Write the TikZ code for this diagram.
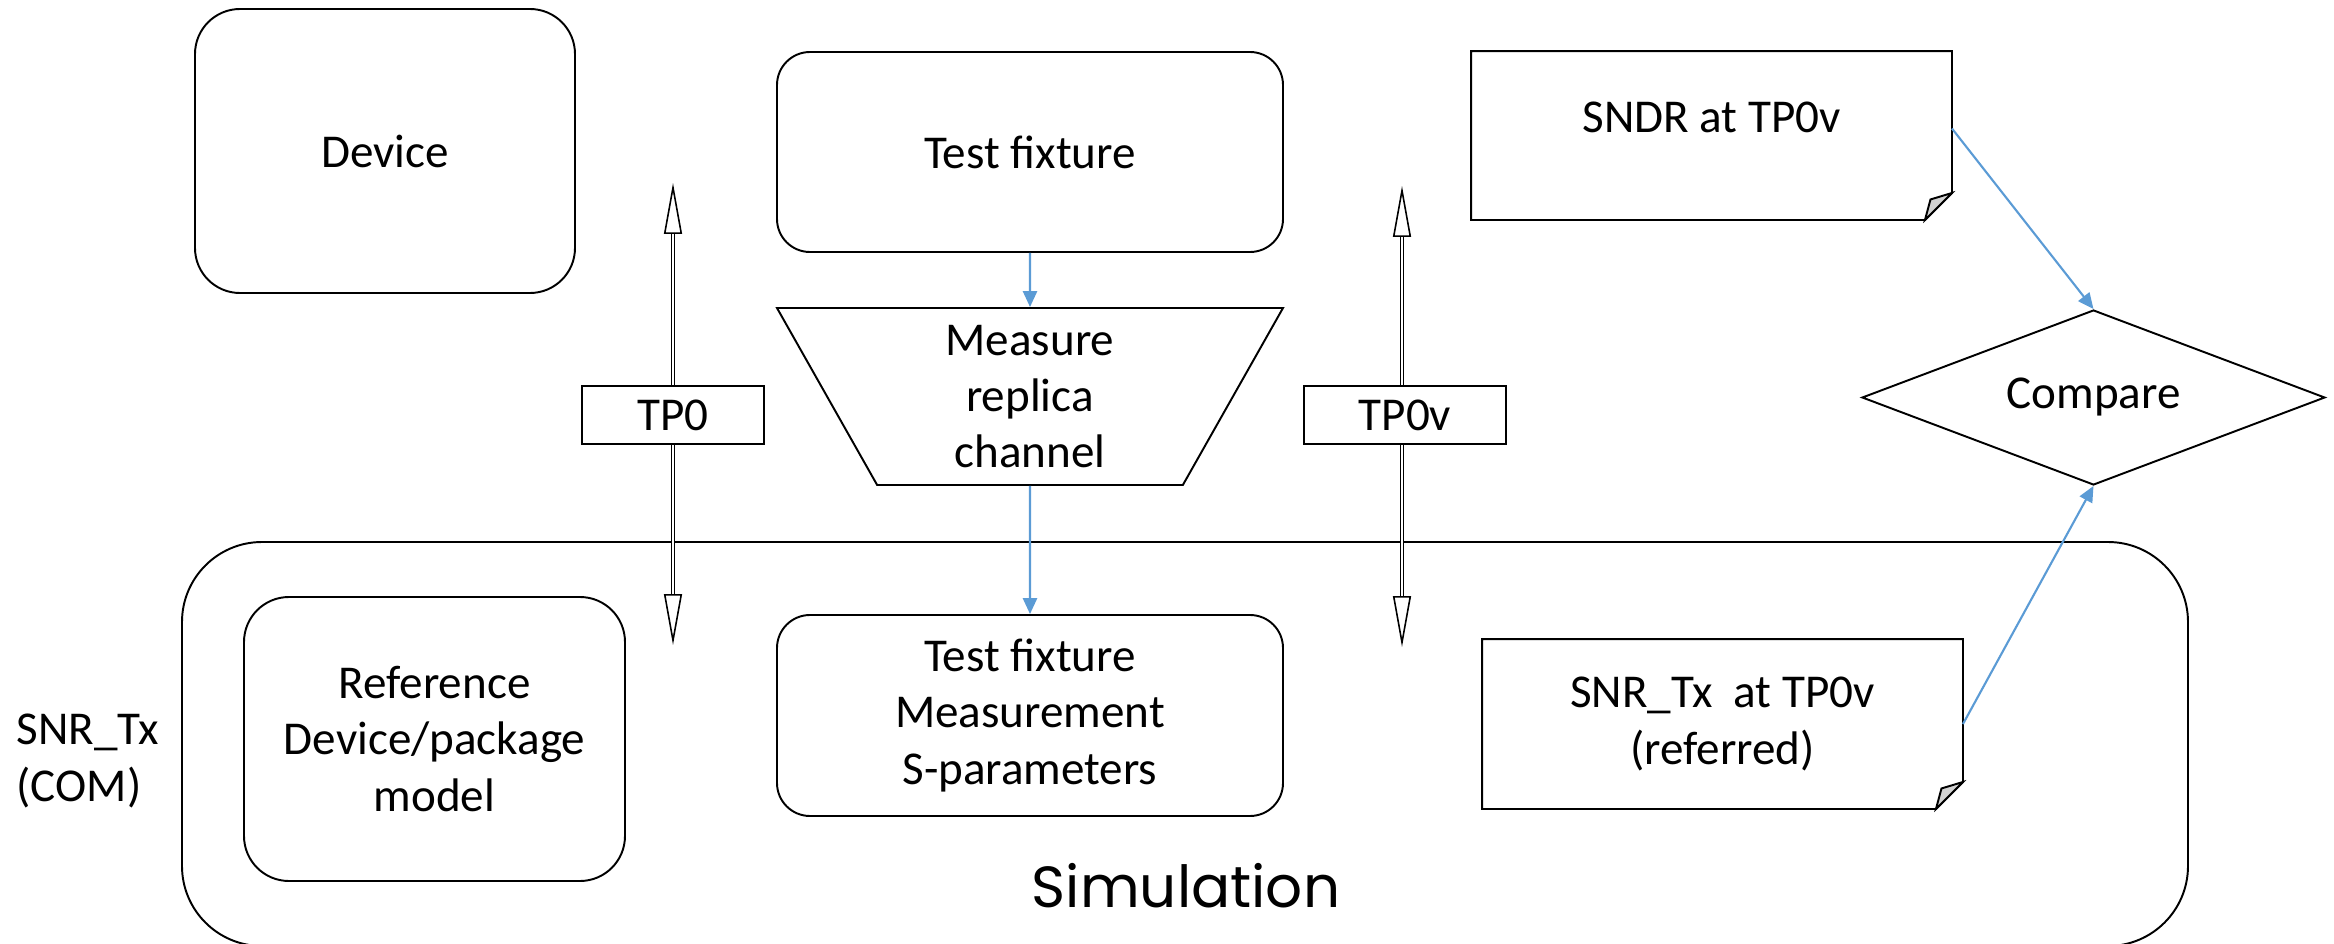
\documentclass[tikz,border=0pt]{standalone}
\usepackage{fontspec}
\setmainfont{Carlito}
\newfontfamily\manuscrit{Poppins}
\usetikzlibrary{shapes.geometric,arrows.meta}
\definecolor{bleulien}{HTML}{5B9BD5}
% note au coin replié
\newcommand{\coinplie}[1]{%
  \draw (#1.north west) -- (#1.north east) -- ([yshift=2.7mm]#1.south east)
    -- ([xshift=-2.7mm]#1.south east) -- (#1.south west) -- cycle;
  \filldraw[fill=gray!35] ([yshift=2.7mm]#1.south east) -- ([xshift=-2.7mm]#1.south east)
    -- ([xshift=-2.15mm,yshift=2.05mm]#1.south east) -- cycle;}
\begin{document}
\begin{tikzpicture}[line width=0.55pt,font=\fontsize{13.4}{16}\selectfont]
		% définition des styles
		\tikzstyle{bloc}=[rectangle,draw,rounded corners=4.5mm,align=center,inner sep=0pt]
		\tikzstyle{montage}=[rectangle,draw,rounded corners=3.3mm,align=center,inner sep=0pt,minimum width=5.06cm,minimum height=2cm]
		\tikzstyle{note}=[rectangle,align=center,inner sep=0pt,minimum width=4.79cm]
		\tikzstyle{point}=[rectangle,draw,fill=white,inner sep=0pt,minimum height=0.58cm]
		\tikzstyle{mesure}=[trapezium,draw,shape border rotate=180,trapezium left angle=55,trapezium right angle=55,trapezium stretches body,minimum width=5.06cm,minimum height=1.77cm,inner sep=0pt,align=center]
		\tikzstyle{losange}=[diamond,draw,aspect=2.65,inner sep=0pt,minimum width=4.63cm,minimum height=1.75cm]
		\tikzstyle{lien}=[-{Triangle[length=4.5pt,width=4pt]},bleulien,line width=0.6pt]
		\tikzstyle{acces}=[double,double distance=0.5pt,line width=0.45pt,{Triangle[open,length=14.5pt,width=5.1pt,line width=0.45pt]}-{Triangle[open,length=14.5pt,width=5.1pt,line width=0.45pt]}]
		\useasboundingbox (0,0) rectangle (23.34,-9.44);
		% la simulation
		\node[draw,rounded corners=8mm,minimum width=20.06cm,minimum height=4.04cm] (simu) at (11.85,-7.44) {};
		\node[font=\manuscrit\fontsize{16.5}{20}\selectfont] (simutxt) at (11.86,-8.86) {Simulation};
		\node[anchor=west,align=left] (com) at (0.04,-7.61) {SNR\_Tx\\(COM)};
		% les nœuds
		\node[bloc,minimum width=3.8cm,minimum height=2.84cm] (dev) at (3.85,-1.51) {Device};
		\node[montage] (tf) at (10.3,-1.52) {Test fixture};
		\node[note,minimum height=1.67cm,text depth=0.36cm] (sndr) at (17.115,-1.355) {SNDR at TP0v};
		\node[mesure] (mrc) at (10.3,-3.965) {Measure\\replica\\channel};
		\node[losange] (comp) at (20.935,-3.975) {Compare};
		\node[bloc,minimum width=3.81cm,minimum height=2.84cm] (ref) at (4.345,-7.39) {Reference\\Device/package\\model};
		\node[montage,minimum height=2.01cm] (tfm) at (10.3,-7.155) {Test fixture\\Measurement\\S-parameters};
		\node[note,minimum height=1.68cm] (snr) at (17.225,-7.24) {SNR\_Tx~ at TP0v\\(referred)};
		\coinplie{sndr}
		\coinplie{snr}
		% les points de test
		\coordinate (tp0-haut) at (6.73,-1.83);
		\coordinate (tp0-bas) at (6.73,-6.45);
		\coordinate (tp0v-haut) at (14.02,-1.86);
		\coordinate (tp0v-bas) at (14.02,-6.47);
		\draw[acces] (tp0-haut) -- (tp0-bas);
		\draw[acces] (tp0v-haut) -- (tp0v-bas);
		\node[point,minimum width=1.82cm] (tp0) at (6.73,-4.15) {TP0};
		\node[point,minimum width=2.02cm] (tp0v) at (14.05,-4.15) {TP0v};
		% les flèches
		\draw[lien] (tf) -- (mrc);
		\draw[lien] (mrc) -- (tfm);
		\draw[lien] ([yshift=0.7mm]sndr.east) -- (comp.north);
		\draw[lien] (snr.east) -- (comp.south);
\end{tikzpicture}
\end{document}
